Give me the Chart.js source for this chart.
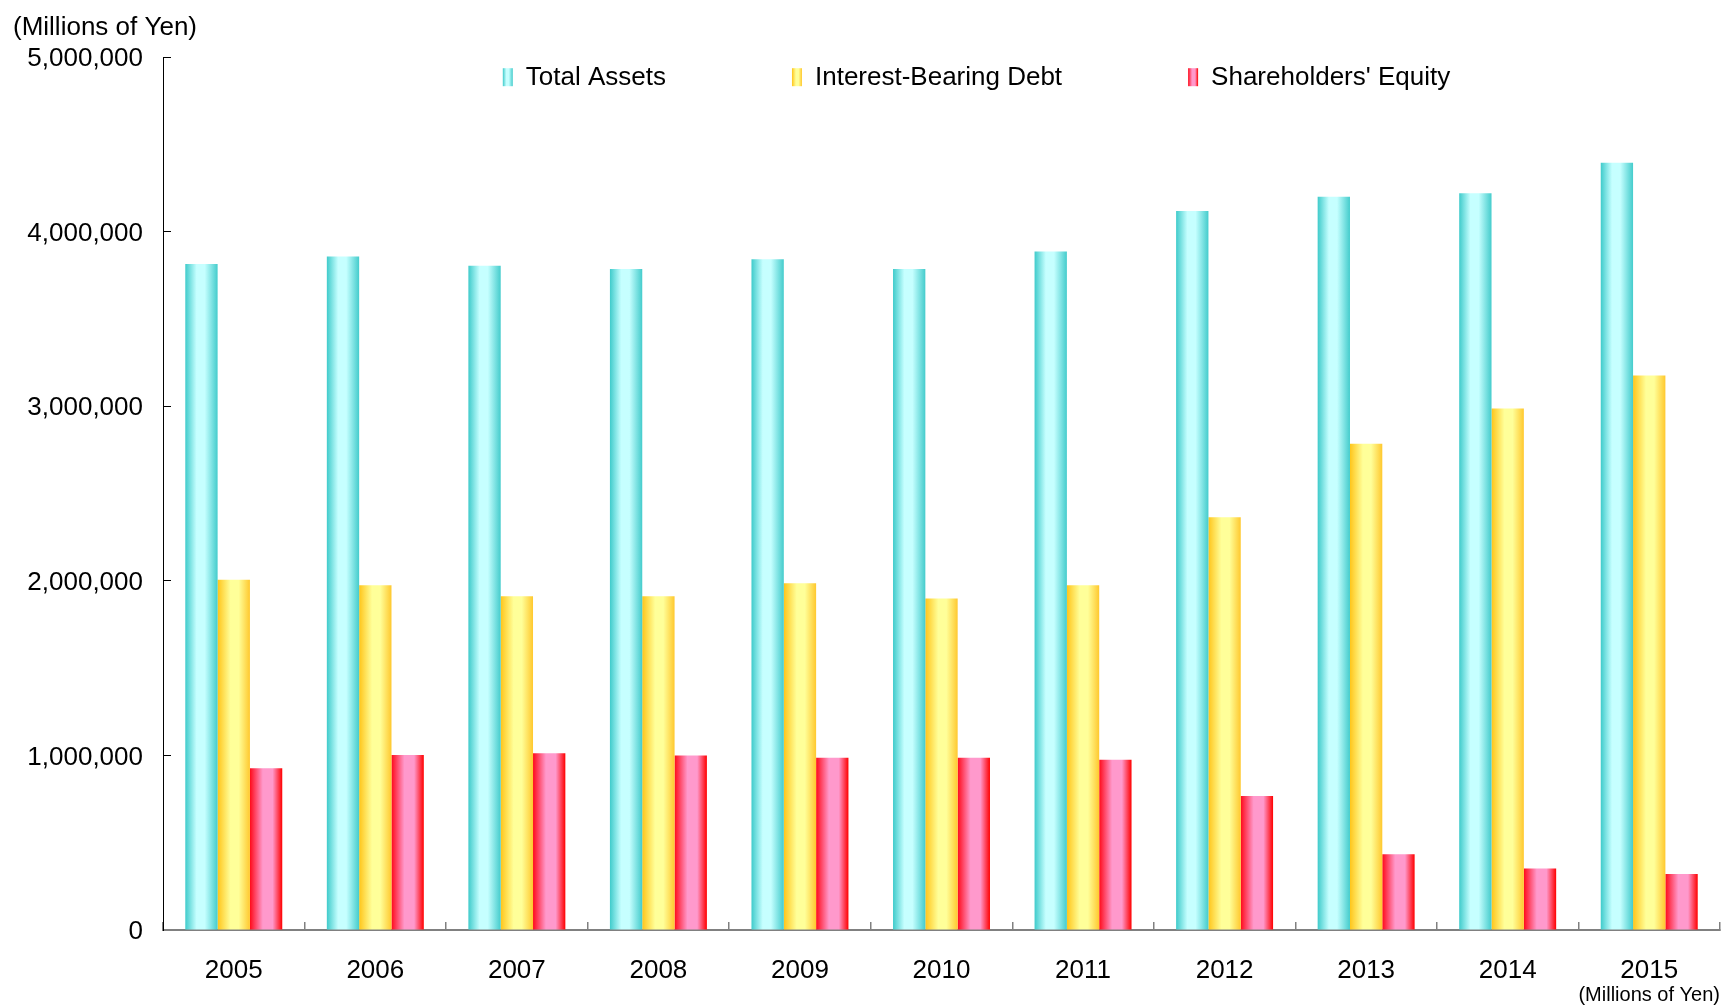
<!DOCTYPE html>
<html>
<head>
<meta charset="utf-8">
<script src="https://cdn.jsdelivr.net/npm/chart.js@4/dist/chart.umd.min.js"></script>
<style>
  html, body { margin: 0; padding: 0; background: #ffffff; }
  #wrap { width: 1722px; height: 1006px; }
</style>
</head>
<body>
<div id="wrap"><canvas id="c" width="1722" height="1006"></canvas></div>
<script>
const years = ['2005','2006','2007','2008','2009','2010','2011','2012','2013','2014','2015'];
const totalAssets = [3815000, 3858000, 3805000, 3786000, 3843000, 3786000, 3887000, 4119000, 4201000, 4220000, 4396000];
const interestBearingDebt = [2006000, 1975000, 1912000, 1912000, 1987000, 1899000, 1975000, 2365000, 2786000, 2987000, 3176000];
const shareholdersEquity = [927000, 1002000, 1013000, 1000000, 987000, 987000, 975000, 767000, 434000, 352000, 321000];
const seriesNames = ['Total Assets', 'Interest-Bearing Debt', "Shareholders' Equity"];
const yTicks = [0, 1000000, 2000000, 3000000, 4000000, 5000000];
const unitLabel = '(Millions of Yen)';

const FONT = "'Liberation Sans', Arial, sans-serif";
const gradStops = [
  [[0, '#3FCBCB'], [0.35, '#C6FFFF'], [0.6, '#C6FFFF'], [1, '#44CCCC']],
  [[0, '#FFC51A'], [0.4, '#FFFF99'], [0.65, '#FFFF99'], [1, '#FFC82E']],
  [[0, '#FF0A1A'], [0.4, '#FF99CC'], [0.7, '#FF99CC'], [1, '#FF0000']]
];
const solid = ['#7FE0E0', '#FFE566', '#FF5577'];
const CAT_PCT = 0.685;

function barGradient(context) {
  const chart = context.chart;
  const xs = chart.scales && chart.scales.x;
  if (!chart.chartArea || !xs || xs.width <= 0 || context.dataIndex === undefined) return solid[context.datasetIndex];
  const catW = xs.width / years.length;
  const groupW = catW * CAT_PCT;
  const barW = groupW / 3;
  const center = xs.getPixelForValue(context.dataIndex);
  const left = center - groupW / 2 + context.datasetIndex * barW;
  const g = chart.ctx.createLinearGradient(left, 0, left + barW, 0);
  gradStops[context.datasetIndex].forEach(s => g.addColorStop(s[0], s[1]));
  return g;
}

// Legend drawn inside the plot area (horizontal row near the top)
const inAreaLegend = {
  id: 'inAreaLegend',
  afterDraw(chart) {
    const ctx = chart.ctx;
    const area = chart.chartArea;
    const BOX_W = 10, BOX_H = 18, GAP = 13, SPACE = 126, SIZE = 26;
    ctx.save();
    ctx.font = SIZE + 'px ' + FONT;
    const names = chart.data.datasets.map(d => d.label);
    const widths = names.map(n => ctx.measureText(n).width);
    const total = widths.reduce((a, b) => a + b, 0) + names.length * (BOX_W + GAP) + (names.length - 1) * SPACE;
    let x = (area.left + area.right) / 2 + 35 - total / 2;
    const cy = area.top + 20;
    ctx.textBaseline = 'middle';
    ctx.textAlign = 'left';
    names.forEach((n, i) => {
      const g = ctx.createLinearGradient(x, 0, x + BOX_W, 0);
      gradStops[i].forEach(s => g.addColorStop(s[0], s[1]));
      ctx.fillStyle = g;
      ctx.fillRect(x, cy - BOX_H / 2, BOX_W, BOX_H);
      ctx.fillStyle = '#000';
      ctx.fillText(n, x + BOX_W + GAP, cy + 1);
      x += BOX_W + GAP + widths[i] + SPACE;
    });
    ctx.restore();
  }
};

const dataSets = [totalAssets, interestBearingDebt, shareholdersEquity];

new Chart(document.getElementById('c'), {
  type: 'bar',
  data: {
    labels: years,
    datasets: dataSets.map((d, i) => ({
      label: seriesNames[i],
      data: d,
      backgroundColor: barGradient,
      borderWidth: 0,
      categoryPercentage: CAT_PCT,
      barPercentage: 1.0
    }))
  },
  plugins: [inAreaLegend],
  options: {
    responsive: false,
    animation: false,
    devicePixelRatio: 1,
    layout: { padding: { left: 13, right: 2, top: 0, bottom: 0 } },
    plugins: {
      title: {
        display: true,
        text: unitLabel,
        align: 'start',
        color: '#000',
        font: { family: FONT, size: 26, weight: 'normal', lineHeight: 1.2 },
        padding: { top: 12, bottom: 14 }
      },
      subtitle: {
        display: true,
        text: unitLabel,
        position: 'bottom',
        align: 'end',
        color: '#000',
        font: { family: FONT, size: 20, weight: 'normal', lineHeight: 1.1 },
        padding: 0
      },
      legend: { display: false },
      tooltip: { enabled: false }
    },
    scales: {
      x: {
        offset: true,
        grid: { display: true, drawOnChartArea: false, offset: true, tickLength: -8, color: '#808080', lineWidth: 1.5 },
        border: { display: true, color: '#808080', width: 2 },
        ticks: { color: '#000', padding: 33, font: { family: FONT, size: 26, lineHeight: 1.2 }, maxRotation: 0 },
        afterFit: (s) => { s.height = 54; }
      },
      y: {
        min: 0,
        max: 5000000,
        afterBuildTicks: (s) => { s.ticks = yTicks.map(v => ({ value: v })); },
        grid: { display: true, drawOnChartArea: false, tickLength: -8, color: '#000', lineWidth: 1 },
        border: { display: true, color: '#000', width: 1 },
        ticks: {
          color: '#000',
          padding: 28,
          labelOffset: 2,
          font: { family: FONT, size: 26, lineHeight: 1.2 },
          callback: (v) => Number(v).toLocaleString('en-US')
        },
        afterFit: (s) => { s.width = 150; }
      }
    }
  }
});
</script>
</body>
</html>
